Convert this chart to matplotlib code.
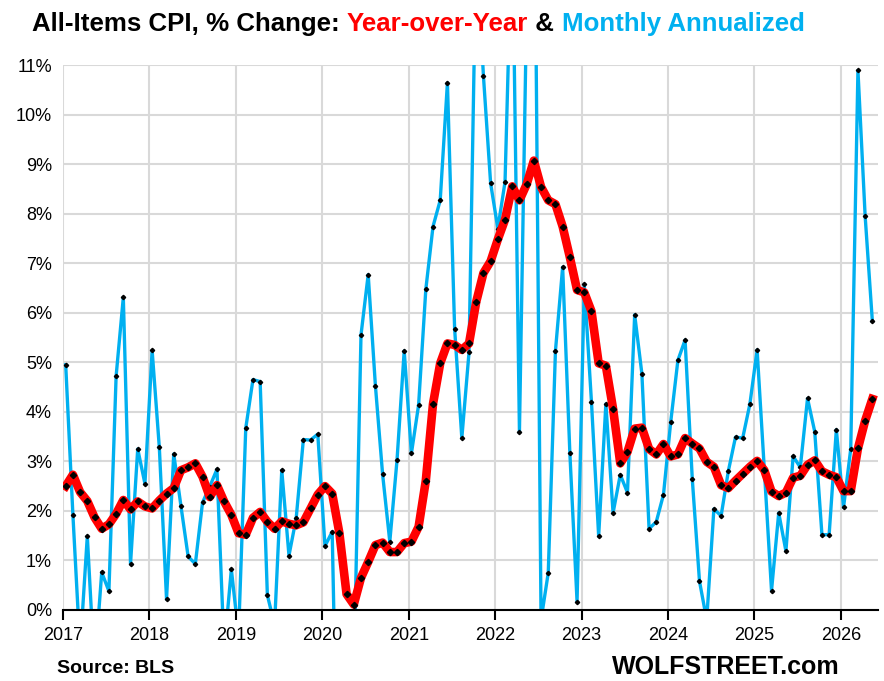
"""
CPI chart: year-over-year vs monthly annualized (% change), Jan 2017 - May 2026.
"""
import matplotlib.pyplot as plt
from matplotlib import font_manager
import numpy as np

_names = {f.name for f in font_manager.fontManager.ttflist}
NARROW = "Liberation Sans Narrow" if "Liberation Sans Narrow" in _names else "Liberation Sans"

RED = "#FF0000"
BLUE = "#00B0F0"
GRID = "#D9D9D9"

START_YEAR = 2017
years = list(range(2017, 2027))
y_ticks = list(range(0, 12))

# year-over-year % change, monthly from Jan 2017
yoy = [
    2.50, 2.73, 2.38, 2.20, 1.87, 1.64, 1.73, 1.94, 2.22, 2.03, 2.19, 2.09,  # 2017
    2.05, 2.21, 2.35, 2.46, 2.82, 2.88, 2.96, 2.69, 2.28, 2.52, 2.19, 1.92,  # 2018
    1.55, 1.52, 1.86, 1.98, 1.78, 1.64, 1.79, 1.74, 1.71, 1.77, 2.05, 2.33,  # 2019
    2.50, 2.35, 1.55, 0.32, 0.11, 0.65, 0.97, 1.31, 1.36, 1.17, 1.17, 1.35,  # 2020
    1.38, 1.68, 2.61, 4.16, 4.98, 5.38, 5.35, 5.25, 5.38, 6.22, 6.80, 7.04,  # 2021
    7.48, 7.88, 8.55, 8.27, 8.59, 9.07, 8.54, 8.27, 8.19, 7.74, 7.12, 6.46,  # 2022
    6.41, 6.03, 4.98, 4.93, 4.06, 2.96, 3.19, 3.66, 3.68, 3.25, 3.14, 3.35,  # 2023
    3.10, 3.14, 3.47, 3.36, 3.26, 2.99, 2.89, 2.52, 2.46, 2.61, 2.75, 2.89,  # 2024
    3.01, 2.82, 2.39, 2.30, 2.37, 2.67, 2.71, 2.93, 3.02, 2.80, 2.73, 2.68,  # 2025
    2.40, 2.40, 3.26, 3.82, 4.26,                                            # 2026
]

# month-over-month % change, annualized
mom_ann = [
    4.95, 1.92, -0.8, 1.49, -1.2, 0.76, 0.38, 4.72, 6.31, 0.93, 3.25, 2.55,  # 2017
    5.24, 3.28, 0.22, 3.15, 2.10, 1.08, 0.93, 2.17, 2.49, 2.84, -0.8, 0.82,  # 2018
    -0.5, 3.67, 4.65, 4.61, 0.30, -0.3, 2.82, 1.10, 1.85, 3.44, 3.43, 3.55,  # 2019
    1.29, 1.58, -5.5, -8.5, -1.4, 5.55, 6.77, 4.53, 2.74, 1.38, 3.02, 5.23,  # 2020
    3.16, 4.14, 6.47, 7.74, 8.27, 10.64, 5.68, 3.47, 5.20, 13.5, 10.78, 8.61,  # 2021
    7.70, 8.64, 14.0, 3.60, 12.2, 16.5, -0.2, 0.75, 5.23, 6.92, 3.17, 0.17,  # 2022
    6.57, 4.20, 1.49, 4.16, 1.96, 2.73, 2.37, 5.96, 4.77, 1.64, 1.78, 2.33,  # 2023
    3.79, 5.04, 5.45, 2.64, 0.58, -0.2, 2.04, 1.90, 2.80, 3.49, 3.47, 4.16,  # 2024
    5.25, 2.84, 0.39, 1.96, 1.19, 3.10, 2.88, 4.27, 3.60, 1.52, 1.52, 3.64,  # 2025
    2.07, 3.25, 10.89, 7.95, 5.83,                                           # 2026
]

x = START_YEAR + (np.arange(len(yoy)) + 0.375) / 12

fig = plt.figure(figsize=(8.84, 6.81), dpi=100)
ax = fig.add_axes([63 / 884, 1 - 610 / 681, (878 - 63) / 884, (610 - 65) / 681])

ax.plot(x, mom_ann, color=BLUE, linewidth=2.4, marker="D", markersize=2.2,
        markerfacecolor="black", markeredgecolor="black", zorder=3)
ax.plot(x, yoy, color=RED, linewidth=6.2, marker="D", markersize=3.2,
        markerfacecolor="black", markeredgecolor="black", zorder=4,
        solid_joinstyle="round")

ax.set_xlim(START_YEAR, 2026.43)
ax.set_ylim(0, 11)
ax.set_xticks(years)
ax.set_xticklabels([str(y) for y in years])
ax.set_yticks(y_ticks)
ax.set_yticklabels([f"{v}%" for v in y_ticks])

ax.grid(True, color=GRID, linewidth=1.5)
ax.set_axisbelow(True)
for side in ("top", "right", "left"):
    ax.spines[side].set_visible(False)
ax.spines["bottom"].set_color("black")
ax.spines["bottom"].set_linewidth(1.5)
ax.spines["bottom"].set_zorder(5)
ax.tick_params(axis="x", direction="out", length=7, width=1.5, color="black", pad=5)
ax.tick_params(axis="y", length=0, pad=8)
for lab in ax.get_xticklabels() + ax.get_yticklabels():
    lab.set_fontfamily(NARROW)
    lab.set_fontsize(13)

# multi-coloured title, fitted to the reference width (x 32..805 px)
parts = [("All-Items CPI, % Change: ", "black"), ("Year-over-Year", RED),
         (" & ", "black"), ("Monthly Annualized", BLUE)]
renderer = fig.canvas.get_renderer()


def draw_title(size):
    out = []
    xpos = 32
    for s, c in parts:
        t = fig.text(xpos / 884, 1 - 31 / 681, s, color=c, fontsize=size,
                     fontweight="bold", fontfamily=NARROW, ha="left", va="baseline")
        xpos += t.get_window_extent(renderer).width
        out.append(t)
    return out, xpos - 32


probe, width = draw_title(21)
for t in probe:
    t.remove()
draw_title(21 * 772 / width)

fig.text(57 / 884, 1 - 673 / 681, "Source: BLS", fontsize=14, fontweight="bold",
         fontfamily=NARROW, ha="left", va="baseline")
fig.text(840 / 884, 1 - 674 / 681, "WOLFSTREET.com", fontsize=18, fontweight="bold",
         fontfamily=NARROW, ha="right", va="baseline")

fig.savefig("out.png", dpi=100)
